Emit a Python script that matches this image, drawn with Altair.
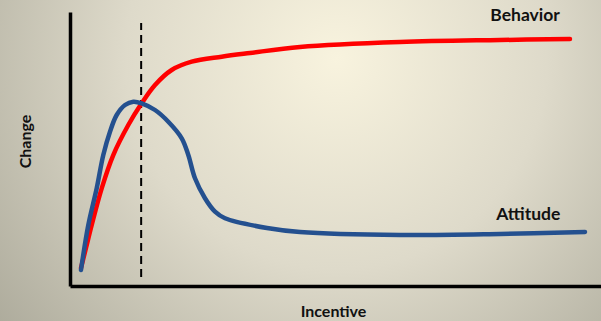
import altair as alt
import pandas as pd

# Behavior curve (incentive, change) in axis units 0..10
beh_x = [0.207, 0.301, 0.409, 0.597, 0.815, 1.098, 1.350, 1.601, 1.915, 2.292, 2.857, 3.390, 4.331, 6.215, 8.098, 9.416]
beh_y = [0.657, 1.387, 2.226, 3.566, 4.781, 5.876, 6.668, 7.336, 7.883, 8.186, 8.369, 8.504, 8.723, 8.905, 8.978, 9.015]

# Attitude curve
att_x = [0.207, 0.345, 0.503, 0.627, 0.753, 0.879, 1.036, 1.192, 1.350, 1.601, 1.851, 2.104, 2.228, 2.354,
         2.542, 2.731, 2.919, 3.710, 4.331, 6.215, 8.098, 9.699]
att_y = [0.584, 2.226, 3.566, 4.781, 5.631, 6.241, 6.606, 6.726, 6.668, 6.423, 5.996, 5.391, 4.781, 3.931,
         3.201, 2.712, 2.471, 2.117, 1.971, 1.861, 1.898, 1.971]

# Dashed marker
marker_x = [1.34]
marker_y0 = [0.33]
marker_y1 = [9.60]

# Series labels
label_text = ["Behavior", "Attitude"]
label_x = [8.57, 8.63]
label_y = [9.85, 2.59]

series_names = ["Behavior", "Attitude"]
series_colors = ["#FF0000", "#24508F"]

df = pd.concat([
    pd.DataFrame({"x": beh_x, "y": beh_y, "s": "Behavior", "o": range(len(beh_x))}),
    pd.DataFrame({"x": att_x, "y": att_y, "s": "Attitude", "o": range(len(att_x))}),
])
marker_df = pd.DataFrame({"x": marker_x, "y0": marker_y0, "y1": marker_y1})
label_df = pd.DataFrame({"t": label_text, "x": label_x, "y": label_y})

FONT = "Lato"
xs = alt.Scale(domain=[0, 10], nice=False, zero=False)
ys = alt.Scale(domain=[0, 10], nice=False, zero=False)

bg = alt.Chart(pd.DataFrame({"a": [0]})).mark_rect(
    fill=alt.RadialGradient(
        gradient="radial",
        x1=0.56, y1=0.33, r1=0.0,
        x2=0.56, y2=0.33, r2=0.78,
        stops=[
            alt.GradientStop(offset=0, color="#F8F3DE"),
            alt.GradientStop(offset=0.45, color="#DEDACA"),
            alt.GradientStop(offset=1, color="#A5A394"),
        ],
    ),
    strokeWidth=0,
).encode(
    x=alt.value(-70), x2=alt.value(531), y=alt.value(-12), y2=alt.value(309)
)

lines = alt.Chart(df).mark_line(strokeWidth=4.5, interpolate="catmull-rom", strokeCap="round").encode(
    x=alt.X("x:Q", scale=xs, axis=alt.Axis(
        title="Incentive", domain=True, domainColor="black", domainWidth=3.5,
        ticks=False, labels=False, grid=False, zindex=1,
        titleFont=FONT, titleFontSize=16, titleFontWeight="bold", titleColor="#111111",
        titleX=263, titleY=25, titleBaseline="middle", titleAlign="center")),
    y=alt.Y("y:Q", scale=ys, axis=alt.Axis(
        title="Change", domain=True, domainColor="black", domainWidth=3.5,
        ticks=False, labels=False, grid=False, zindex=1,
        titleFont=FONT, titleFontSize=16, titleFontWeight="bold", titleColor="#111111",
        titleX=-45, titleY=129, titleAngle=-90, titleBaseline="middle", titleAlign="center")),
    color=alt.Color("s:N", scale=alt.Scale(domain=series_names, range=series_colors), legend=None),
    order="o:Q",
)

marker = alt.Chart(marker_df).mark_rule(strokeDash=[8, 5], strokeWidth=2, color="black").encode(
    x=alt.X("x:Q", scale=xs), y=alt.Y("y0:Q", scale=ys), y2="y1:Q"
)

labels = alt.Chart(label_df).mark_text(
    font=FONT, fontSize=17.5, fontWeight="bold", color="#111111", baseline="middle", align="center"
).encode(x=alt.X("x:Q", scale=xs), y=alt.Y("y:Q", scale=ys), text="t:N")

chart = alt.layer(bg, marker, lines, labels).properties(
    width=531, height=274,
    autosize=alt.AutoSizeParams(type="none"),
    padding={"left": 70, "top": 12, "right": 0, "bottom": 35},
    background="#B8B5A5",
).configure_view(strokeWidth=0)

chart.save("out.html", embed_options={"renderer": "svg", "actions": False})
